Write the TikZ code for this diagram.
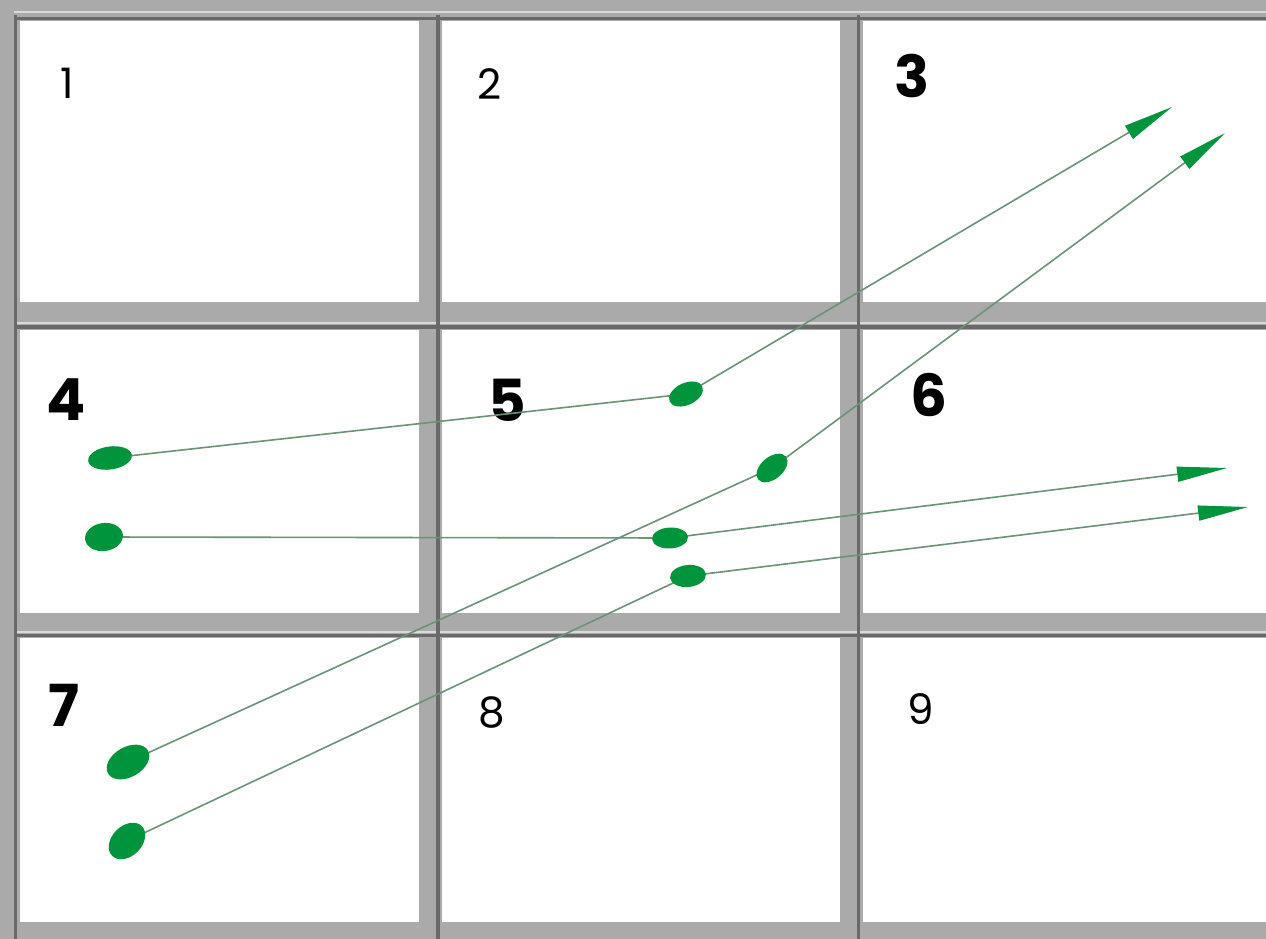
\documentclass[tikz,border=0pt]{standalone}
\usepackage{fontspec}
\setmainfont{Poppins}
\usetikzlibrary{shapes.geometric,arrows.meta}
\definecolor{bandgray}{RGB}{170,170,170}
\definecolor{rulegray}{RGB}{105,105,105}
\definecolor{lightstrip}{RGB}{218,218,218}
\definecolor{dotgreen}{RGB}{0,148,60}
\definecolor{wiregreen}{RGB}{105,148,118}
\tikzset{
  cellbox/.style={fill=white},
  darkrule/.style={draw=rulegray,line width=3.5pt},
  lightrule/.style={draw=lightstrip,line width=2pt},
  smalllabel/.style={inner sep=0pt,font=\fontsize{42}{42}\selectfont},
  biglabel/.style={inner sep=0pt,font=\fontsize{58}{58}\selectfont\bfseries},
  greendot/.style={ellipse,fill=dotgreen,inner sep=0pt},
  wire/.style={draw=wiregreen,line width=1.6pt},
  arrowwire/.style={wire,-{Triangle[length=50pt,width=15pt,fill=dotgreen,color=dotgreen]}}
}
\begin{document}
\begin{tikzpicture}[x=1pt,y=-1pt]
\useasboundingbox (0,0) rectangle (1266,939);
\fill[bandgray] (0,0) rectangle (1266,939);
% cells
\foreach \xa/\xb in {20/419,442/840,863/1266}
  \foreach \ya/\yb in {21/302,330/613,638/922}
    \fill[white] (\xa,\ya) rectangle (\xb,\yb);
% light strips
\foreach \y in {12.5,323,631.5}
  \draw[lightrule] (14,\y) -- (1266,\y);
% dark rules
\foreach \y in {18.5,327,635.5}
  \draw[darkrule] (14,\y) -- (1266,\y);
\foreach \x in {15.5,438,858.5}
  \draw[darkrule] (\x,15) -- (\x,939);
% labels
\node[smalllabel] (n1) at (67,83) {1};
\node[smalllabel] (n2) at (490,84) {2};
\node[biglabel] (n3) at (912,76) {3};
\node[biglabel] (n4) at (66,400) {4};
\node[biglabel] (n5) at (507,400) {5};
\node[biglabel] (n6) at (929,395) {6};
\node[biglabel] (n7) at (64,705) {7};
\node[smalllabel] (n8) at (492,712) {8};
\node[smalllabel] (n9) at (921,709) {9};
% dot positions
\coordinate (pa) at (110,458);
\coordinate (pb) at (104,537);
\coordinate (pc) at (686,394);
\coordinate (pd) at (772,468);
\coordinate (pe) at (670,538);
\coordinate (pf) at (688,576);
\coordinate (pg) at (128,762);
\coordinate (ph) at (127,841);
\coordinate (t1) at (1172,107);
\coordinate (t2) at (1227,468);
\coordinate (t3) at (1225,133);
\coordinate (t4) at (1248,507);
% connectors
\draw[arrowwire] (pa) -- (pc) -- (t1);
\draw[arrowwire] (pb) -- (pe) -- (t2);
\draw[arrowwire] (pg) -- (pd) -- (t3);
\draw[arrowwire] (ph) -- (pf) -- (t4);
% dots
\node[greendot,minimum width=44pt,minimum height=23pt,rotate=8] (a) at (pa) {};
\node[greendot,minimum width=38pt,minimum height=28pt,rotate=8] (b) at (pb) {};
\node[greendot,minimum width=36pt,minimum height=22pt,rotate=25] (c) at (pc) {};
\node[greendot,minimum width=36pt,minimum height=22pt,rotate=40] (d) at (pd) {};
\node[greendot,minimum width=36pt,minimum height=21pt,rotate=3] (e) at (pe) {};
\node[greendot,minimum width=36pt,minimum height=22pt,rotate=6] (f) at (pf) {};
\node[greendot,minimum width=46pt,minimum height=30pt,rotate=30] (g) at (pg) {};
\node[greendot,minimum width=42pt,minimum height=30pt,rotate=45] (h) at (ph) {};
\end{tikzpicture}
\end{document}
